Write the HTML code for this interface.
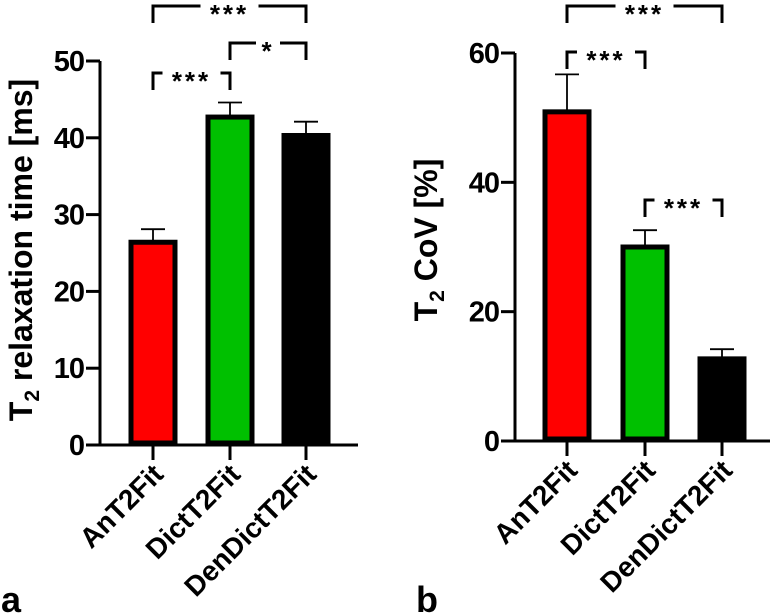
<!DOCTYPE html>
<html><head><meta charset="utf-8"><style>
html,body{margin:0;padding:0;background:#fff;width:777px;height:615px;overflow:hidden}
text{font-family:"Liberation Sans",sans-serif;font-weight:bold;fill:#000}
</style></head><body>
<svg id="svg" width="777" height="615" viewBox="0 0 777 615" xmlns="http://www.w3.org/2000/svg"></svg>
<script>
const categories = ["AnT2Fit","DictT2Fit","DenDictT2Fit"];
const colors = ["#ff0000","#00c000","#000000"];
const t2Values = [26.4, 42.7, 40.3];
const t2Errors = [1.7, 1.9, 1.8];
const t2Ticks = [0,10,20,30,40,50];
const covValues = [50.9, 30.0, 12.7];
const covErrors = [5.8, 2.6, 1.5];
const covTicks = [0,20,40,60];
const t2Sig = [[0,2,"***",0],[1,2,"*",1],[0,1,"***",2]];
const covSig = [[0,2,"***",0],[0,1,"***",1],[1,2,"***",2]];

const NS="http://www.w3.org/2000/svg";
const svg=document.getElementById('svg');
function mk(tag,attrs,parent){const e=document.createElementNS(NS,tag);for(const k in attrs)e.setAttribute(k,attrs[k]);(parent||svg).appendChild(e);return e;}

function panel(cfg){
  const g=mk('g',{});
  
  
  const y=v=>cfg.base-(v-0)*(cfg.base-cfg.topY)/(cfg.max);
  const x=i=>cfg.cx[i];
  const ya=mk('line',{x1:cfg.ax,y1:y(cfg.max),x2:cfg.ax,y2:cfg.base+1.5,stroke:'#000','stroke-width':3},g);
  
  
  const xa=mk('line',{x1:cfg.ax-14,y1:cfg.base,x2:cfg.axEnd,y2:cfg.base,stroke:'#000','stroke-width':3},g);
  
  
  cfg.ticks.forEach(t=>{
    const l=mk('line',{x1:cfg.ax-14,y1:y(t),x2:cfg.ax,y2:y(t),stroke:'#000','stroke-width':3},g);
    
    
    const tx=mk('text',{x:cfg.ax-16,y:y(t)+10,'text-anchor':'end','font-size':29,'letter-spacing':'-1'},g);
    tx.textContent=t;
    
    
  });
  cfg.values.forEach((v,i)=>{
    const e=cfg.errors[i];
    const el=mk('line',{x1:x(i),y1:y(v),x2:x(i),y2:y(v+e),stroke:'#000','stroke-width':1.8},g);
    
    
    const ec=mk('line',{x1:x(i)-12,y1:y(v+e),x2:x(i)+12,y2:y(v+e),stroke:'#000','stroke-width':1.8},g);
    
    
    const r=mk('rect',{x:x(i)-22,y:y(v),width:44,height:cfg.base-y(v)-2,fill:colors[i],stroke:'#000','stroke-width':5},g);
    
    
    const xt=mk('line',{x1:x(i),y1:cfg.base,x2:x(i),y2:cfg.base+15,stroke:'#000','stroke-width':3},g);
    
    
    const lb=mk('text',{x:x(i)+12,y:cfg.base+31,'text-anchor':'end','font-size':28,transform:`rotate(-45 ${x(i)+12} ${cfg.base+31})`},g);
    lb.textContent=categories[i];
    
    
  });
  cfg.sig.forEach(s=>{
    const by=cfg.sigY[s[3]], x1=x(s[0]), x2=x(s[1]), mid=(x1+x2)/2;
    const hw=s[2].length===3?29:12;
    const p=mk('path',{d:`M${x1},${by+17}V${by}H${mid-hw}M${mid+hw},${by}H${x2}V${by+17}`,fill:'none',stroke:'#000','stroke-width':3},g);
    
    
    const t=mk('text',{x:mid,y:by+17,'text-anchor':'middle','font-size':26,'font-weight':'normal','letter-spacing':'3'},g);
    t.textContent=s[2];
    
    
  });
  const ttl=mk('text',{x:0,y:0,'text-anchor':'middle','font-size':32,transform:`translate(${cfg.titleX} ${cfg.titleY}) rotate(-90)`},g);
  ttl.innerHTML=cfg.title;
  
  
  const pl=mk('text',{x:cfg.letterX,y:612,'font-size':36},g);
  pl.textContent=cfg.letter;
  
  
}
panel({name:'panel-a',ax:100,axEnd:358,base:445,topY:61,max:50,cx:[153,230,306],values:t2Values,errors:t2Errors,ticks:t2Ticks,sig:t2Sig,sigY:[6,43,73],
  title:'T<tspan font-size="21" dy="7">2</tspan><tspan dy="-7"> relaxation time [ms]</tspan>',titleX:32,titleY:250,letter:'a',letterX:1});
panel({name:'panel-b',ax:515,axEnd:770,base:441,topY:53,max:60,cx:[567,645,722],values:covValues,errors:covErrors,ticks:covTicks,sig:covSig,sigY:[6,52,200],
  title:'T<tspan font-size="21" dy="7">2</tspan><tspan dy="-7"> CoV [%]</tspan>',titleX:437,titleY:240,letter:'b',letterX:416});
</script>
</body></html>
